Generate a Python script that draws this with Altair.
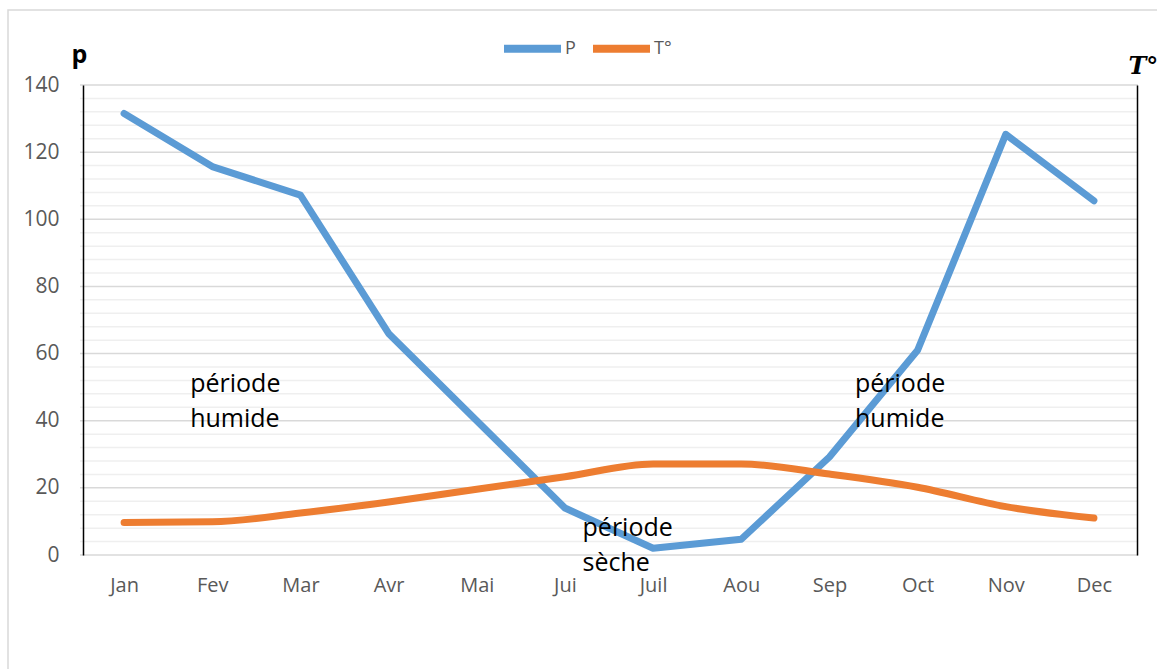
import json
import altair as alt
import pandas as pd

# Monthly climate values
months = ["Jan", "Fev", "Mar", "Avr", "Mai", "Jui", "Juil", "Aou", "Sep", "Oct", "Nov", "Dec"]
precip = [131.5, 115.7, 107.2, 66.0, 40.0, 14.0, 2.0, 4.7, 29.2, 61.0, 125.3, 105.5]
temp = [9.7, 9.9, 12.5, 15.8, 19.6, 23.3, 27.1, 27.1, 24.1, 20.2, 14.4, 11.0]
series = ["P", "T°"]
colors = ["#5b9bd5", "#ed7d31"]

# Annotations (month index, value)
notes = ["période\nhumide", "période\nhumide", "période\nsèche"]
note_x = [0.75, 8.29, 5.2]
note_y = [48.6, 48.6, 5.7]

major_ticks = list(range(0, 141, 20))
minor_ticks = [v for v in range(4, 140, 4) if v % 20]

idx = list(range(len(months)))
df_p = pd.DataFrame({"m": idx, "v": precip, "s": series[0]})
df_t = pd.DataFrame({"m": idx, "v": temp, "s": series[1]})
df_notes = pd.DataFrame({"m": note_x, "v": note_y, "txt": notes})
df_minor = pd.DataFrame({"g": minor_ticks})
df_major = pd.DataFrame({"g": major_ticks})

FONT = "Open Sans"
GRAY = "#595959"

xscale = alt.Scale(domain=[-0.5, len(months) - 0.5], nice=False, zero=False)
yscale = alt.Scale(domain=[0, 140], nice=False)

label_expr = json.dumps(months) + "[datum.value]"

x_axis = alt.Axis(
    values=idx, labelExpr=label_expr, grid=False, domain=False, ticks=False,
    title=None, labelFont=FONT, labelFontSize=20, labelColor=GRAY, labelPadding=20,
)

legend = alt.Legend(
    title=None, orient="none", legendX=420, legendY=-69, direction="horizontal",
    symbolType="stroke", symbolSize=3249, symbolStrokeWidth=8,
    labelFont=FONT, labelFontSize=18, labelColor=GRAY, labelOffset=0,
    columnPadding=0, padding=0,
)
color = alt.Color("s:N", scale=alt.Scale(domain=series, range=colors), legend=legend)

# outer frame
frame = alt.Chart(pd.DataFrame({"k": [0]})).mark_rect(
    fillOpacity=0, stroke="#d9d9d9", strokeWidth=1.5
).encode(
    x=alt.value(-72), x2=alt.value(1100), y=alt.value(-75), y2=alt.value(620)
)

# horizontal gridlines: light every 4, darker every 20
minor = alt.Chart(df_minor).mark_rule(color="#efefef", strokeWidth=1.5).encode(
    y=alt.Y("g:Q", scale=yscale, axis=None)
)
major = alt.Chart(df_major).mark_rule(color="#d9d9d9", strokeWidth=1.5).encode(
    y=alt.Y("g:Q", scale=yscale, axis=None)
)

line_p = alt.Chart(df_p).mark_line(
    strokeWidth=7, strokeCap="round", strokeJoin="round"
).encode(
    x=alt.X("m:Q", scale=xscale, axis=x_axis),
    y=alt.Y("v:Q", scale=yscale, axis=alt.Axis(
        values=major_ticks, grid=False, zindex=1,
        domain=True, domainColor="black", domainWidth=1.5, ticks=False,
        offset=-3, labelFont=FONT, labelFontSize=21, labelColor=GRAY, labelPadding=24,
        title="p", titleAngle=0, titleX=-4, titleY=-23, titleAlign="center",
        titleBaseline="alphabetic", titleFont=FONT, titleFontSize=25,
        titleFontWeight="bold", titleColor="black",
    )),
    color=color,
)

line_t = alt.Chart(df_t).mark_line(
    strokeWidth=7, strokeCap="round", strokeJoin="round", interpolate="monotone"
).encode(
    x=alt.X("m:Q", scale=xscale, axis=x_axis),
    y=alt.Y("v:Q", scale=yscale, axis=alt.Axis(
        orient="right", values=major_ticks, grid=False, labels=False, ticks=False,
        domain=True, domainColor="black", domainWidth=1.5, offset=-1, zindex=1,
        title="T°", titleAngle=0, titleX=-9, titleY=-12, titleAlign="left",
        titleBaseline="alphabetic", titleFont="DejaVu Serif", titleFontSize=24,
        titleFontWeight="bold", titleFontStyle="italic", titleColor="black",
    )),
    color=color,
)

text = alt.Chart(df_notes).mark_text(
    align="left", baseline="alphabetic", font=FONT, fontSize=25,
    lineBreak="\n", lineHeight=35, color="black",
).encode(
    x=alt.X("m:Q", scale=xscale, axis=x_axis),
    y=alt.Y("v:Q", scale=yscale, axis=None),
    text="txt:N",
)

chart = alt.layer(frame, minor, major, line_p, line_t, text).resolve_axis(
    y="independent"
).properties(
    width=1058, height=470,
    padding={"left": 80, "top": 85, "right": 19, "bottom": 114},
    autosize=alt.AutoSizeParams(type="none"),
    background="white",
).configure_view(stroke=None)

chart.save("out.html", embed_options={"renderer": "svg", "actions": False})
